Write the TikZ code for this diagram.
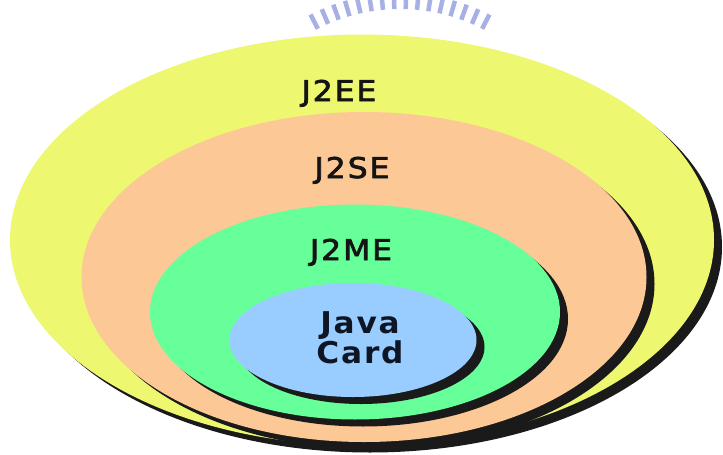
\documentclass[tikz,border=0pt]{standalone}
\usepackage{fontspec}
\setmainfont{DejaVu Sans}
\usepackage{xcolor}
\usepackage{tikz}
\usetikzlibrary{shapes.geometric,shadows}

\newfontfamily\lblfont[LetterSpace=7,FakeBold=2.6,FakeStretch=1.1]{DejaVu Sans}
\newfontfamily\cardfont[LetterSpace=6,FakeStretch=1.04]{DejaVu Sans Bold}

\definecolor{eefill}{HTML}{EDF770}
\definecolor{sefill}{HTML}{FCC896}
\definecolor{mefill}{HTML}{66FF99}
\definecolor{cardfill}{HTML}{99CCFF}
\definecolor{shadowc}{HTML}{1A1A1A}
\definecolor{lbltext}{HTML}{141414}
\definecolor{cardtext}{HTML}{0E1626}
\definecolor{wmark}{HTML}{A6B0E4}

\begin{document}
\begin{tikzpicture}[x=1pt,y=-1pt,
  ring/.style={ellipse, draw=none, inner sep=0pt, outer sep=0pt,
    drop shadow={shadow xshift=8pt, shadow yshift=-7pt, opacity=1, fill=shadowc}},
  lbl/.style={anchor=base, text=lbltext, font=\lblfont\fontsize{28.5}{30}\selectfont}]
\useasboundingbox (0,0) rectangle (723,455);

% faint logo at the top
\foreach \a in {-117,-113.4,...,-62}
  \draw[wmark, line width=4.5pt] (400,190) ++(\a:181) -- ++(\a:16);

% nested editions
\node[ring, fill=eefill, minimum width=704, minimum height=411] (j2ee) at (362,240) {};
\node[ring, fill=sefill, minimum width=565, minimum height=330] (j2se) at (364,277) {};
\node[ring, fill=mefill, minimum width=410, minimum height=215] (j2me) at (355,312) {};
\node[ring, fill=cardfill, minimum width=247, minimum height=114] (card) at (353,340) {};

\node[lbl] (j2eetxt) at (339,101) {J2EE};
\node[lbl] (j2setxt) at (352,178) {J2SE};
\node[lbl] (j2metxt) at (351,260) {J2ME};
\node[anchor=base, align=center, text=cardtext,
  font=\cardfont\fontsize{30}{30}\selectfont] (cardtxt) at (360,363) {Java\\Card};
\end{tikzpicture}
\end{document}
